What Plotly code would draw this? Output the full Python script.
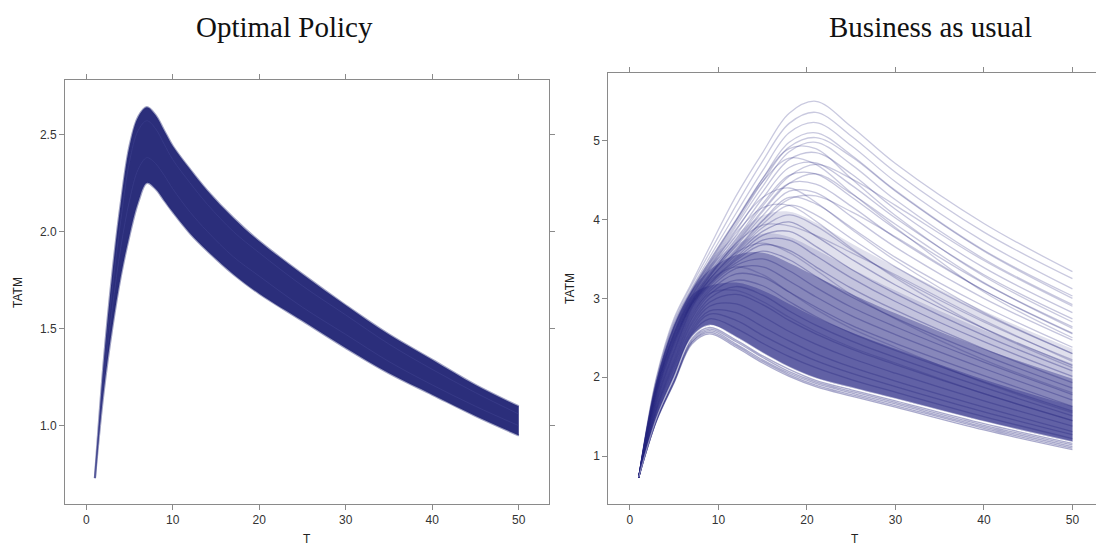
import plotly.graph_objects as go

# ---------------- data ----------------
# Optimal Policy panel: time steps and the envelope of the ensemble
T_OPT = [1, 2, 3, 4, 5, 6, 7, 8, 9, 10, 12, 14, 17, 20, 25, 30, 35, 40, 45, 50]
OPT_UPPER = [0.73, 1.32, 1.78, 2.15, 2.44, 2.59, 2.64, 2.60, 2.52, 2.44, 2.32, 2.21, 2.07, 1.95, 1.78, 1.62, 1.47, 1.34, 1.21, 1.10]
OPT_LOWER = [0.73, 1.17, 1.50, 1.77, 1.98, 2.15, 2.25, 2.22, 2.16, 2.10, 1.99, 1.90, 1.78, 1.68, 1.54, 1.40, 1.27, 1.16, 1.05, 0.95]
OPT_INNER = [
    [0.73, 1.28, 1.70, 2.06, 2.36, 2.52, 2.57, 2.53, 2.45, 2.37, 2.25, 2.14, 2.00, 1.89, 1.72, 1.57, 1.42, 1.29, 1.17, 1.06],
    [0.73, 1.22, 1.60, 1.92, 2.16, 2.32, 2.38, 2.35, 2.29, 2.22, 2.10, 2.00, 1.87, 1.77, 1.61, 1.47, 1.33, 1.21, 1.10, 1.00],
]

# Business as usual panel: time steps and representative trajectories
T_BAU = [1, 3, 5, 7, 9, 12, 15, 18, 21, 25, 30, 40, 50]
BAU_LOW = [
    [0.73, 1.44, 1.93, 2.42, 2.55, 2.38, 2.18, 2.01, 1.88, 1.76, 1.62, 1.33, 1.08],
    [0.73, 1.45, 1.94, 2.44, 2.57, 2.40, 2.20, 2.03, 1.90, 1.78, 1.64, 1.35, 1.10],
    [0.73, 1.45, 1.95, 2.45, 2.59, 2.42, 2.22, 2.05, 1.92, 1.80, 1.66, 1.37, 1.12],
    [0.73, 1.46, 1.96, 2.47, 2.61, 2.45, 2.25, 2.07, 1.94, 1.82, 1.68, 1.39, 1.14],
    [0.73, 1.47, 1.98, 2.49, 2.63, 2.47, 2.27, 2.10, 1.96, 1.84, 1.70, 1.41, 1.16],
]
BAU_GAP = [0.73, 1.48, 2.00, 2.51, 2.66, 2.51, 2.31, 2.13, 1.99, 1.87, 1.73, 1.44, 1.18]
BAU_CORE = [
    [0.73, 1.50, 2.04, 2.55, 2.74, 2.62, 2.43, 2.26, 2.12, 1.97, 1.81, 1.50, 1.22],
    [0.73, 1.52, 2.06, 2.57, 2.80, 2.72, 2.53, 2.36, 2.21, 2.05, 1.88, 1.56, 1.27],
    [0.73, 1.55, 2.10, 2.60, 2.84, 2.82, 2.64, 2.46, 2.30, 2.13, 1.95, 1.62, 1.31],
    [0.73, 1.57, 2.13, 2.63, 2.90, 2.93, 2.77, 2.58, 2.42, 2.24, 2.05, 1.70, 1.38],
    [0.73, 1.59, 2.16, 2.67, 2.95, 3.05, 2.92, 2.72, 2.55, 2.36, 2.16, 1.79, 1.45],
    [0.73, 1.60, 2.18, 2.70, 3.00, 3.15, 3.04, 2.84, 2.66, 2.46, 2.25, 1.87, 1.51],
    [0.73, 1.62, 2.21, 2.74, 3.05, 3.23, 3.16, 2.96, 2.77, 2.56, 2.34, 1.94, 1.57],
    [0.73, 1.65, 2.25, 2.79, 3.09, 3.31, 3.27, 3.08, 2.89, 2.66, 2.43, 2.02, 1.63],
    [0.73, 1.67, 2.28, 2.82, 3.12, 3.38, 3.40, 3.22, 3.02, 2.78, 2.54, 2.11, 1.71],
    [0.73, 1.69, 2.31, 2.85, 3.15, 3.42, 3.50, 3.35, 3.14, 2.89, 2.64, 2.19, 1.78],
    [0.73, 1.71, 2.34, 2.88, 3.17, 3.45, 3.60, 3.49, 3.28, 3.02, 2.75, 2.28, 1.86],
    [0.73, 1.73, 2.37, 2.90, 3.18, 3.48, 3.68, 3.61, 3.40, 3.13, 2.85, 2.36, 1.93],
    [0.73, 1.75, 2.40, 2.92, 3.19, 3.50, 3.74, 3.74, 3.54, 3.26, 2.96, 2.45, 2.01],
    [0.73, 1.77, 2.43, 2.93, 3.20, 3.52, 3.80, 3.85, 3.66, 3.37, 3.06, 2.53, 2.08],
    [0.73, 1.79, 2.45, 2.94, 3.22, 3.55, 3.85, 3.97, 3.79, 3.50, 3.17, 2.62, 2.15],
]
BAU_UPPER = [
    [0.73, 1.81, 2.47, 2.95, 3.24, 3.57, 3.90, 4.06, 3.92, 3.62, 3.28, 2.70, 2.22],
    [0.73, 1.83, 2.49, 2.96, 3.25, 3.59, 3.94, 4.18, 4.06, 3.76, 3.40, 2.80, 2.30],
    [0.73, 1.84, 2.51, 2.97, 3.27, 3.62, 3.99, 4.28, 4.20, 3.90, 3.52, 2.90, 2.38],
    [0.73, 1.86, 2.53, 2.98, 3.29, 3.66, 4.05, 4.36, 4.34, 4.04, 3.65, 3.00, 2.47],
    [0.73, 1.87, 2.55, 3.00, 3.31, 3.70, 4.12, 4.46, 4.45, 4.17, 3.77, 3.10, 2.56],
    [0.73, 1.88, 2.57, 3.01, 3.33, 3.75, 4.20, 4.56, 4.58, 4.29, 3.88, 3.19, 2.64],
    [0.73, 1.90, 2.59, 3.03, 3.36, 3.80, 4.27, 4.66, 4.72, 4.44, 4.02, 3.30, 2.74],
    [0.73, 1.91, 2.61, 3.05, 3.39, 3.86, 4.35, 4.76, 4.85, 4.58, 4.13, 3.39, 2.82],
]
BAU_TOP = [
    [0.73, 1.92, 2.63, 3.07, 3.42, 3.92, 4.42, 4.86, 4.98, 4.70, 4.25, 3.50, 2.92],
    [0.73, 1.94, 2.66, 3.10, 3.47, 3.99, 4.52, 4.98, 5.10, 4.82, 4.37, 3.61, 3.03],
    [0.73, 1.96, 2.69, 3.13, 3.52, 4.08, 4.62, 5.10, 5.23, 4.94, 4.48, 3.72, 3.12],
    [0.73, 1.98, 2.72, 3.17, 3.58, 4.18, 4.74, 5.22, 5.36, 5.06, 4.60, 3.84, 3.25],
    [0.73, 2.00, 2.75, 3.20, 3.65, 4.30, 4.85, 5.35, 5.50, 5.18, 4.71, 3.95, 3.34],
]
BAU_MIXED = [
    [0.73, 1.93, 2.65, 3.10, 3.48, 4.00, 4.52, 4.90, 4.90, 4.52, 4.05, 3.28, 2.70],
    [0.73, 1.86, 2.54, 2.99, 3.30, 3.72, 4.17, 4.55, 4.70, 4.52, 4.18, 3.48, 2.90],
    [0.73, 1.88, 2.58, 3.04, 3.40, 3.88, 4.28, 4.40, 4.22, 3.88, 3.48, 2.82, 2.30],
    [0.73, 1.84, 2.52, 2.97, 3.28, 3.68, 4.10, 4.46, 4.58, 4.33, 3.94, 3.20, 2.62],
    [0.73, 1.85, 2.55, 3.02, 3.37, 3.83, 4.15, 4.18, 3.98, 3.64, 3.26, 2.62, 2.12],
    [0.73, 1.80, 2.47, 2.95, 3.28, 3.70, 3.93, 3.92, 3.80, 3.58, 3.30, 2.72, 2.20],
    [0.73, 1.92, 2.63, 3.08, 3.44, 3.95, 4.48, 4.92, 5.04, 4.80, 4.36, 3.60, 3.00],
    [0.73, 1.77, 2.42, 2.92, 3.24, 3.58, 3.70, 3.58, 3.36, 3.05, 2.74, 2.22, 1.80],
    [0.73, 1.92, 2.63, 3.08, 3.45, 3.98, 4.48, 4.78, 4.70, 4.34, 3.90, 3.08, 2.50],
    [0.73, 1.82, 2.48, 2.94, 3.24, 3.60, 3.98, 4.26, 4.30, 4.10, 3.78, 3.10, 2.55],
    [0.73, 1.70, 2.33, 2.88, 3.22, 3.40, 3.30, 3.08, 2.86, 2.62, 2.38, 1.93, 1.55],
    [0.73, 1.63, 2.22, 2.76, 3.06, 3.10, 2.96, 2.76, 2.58, 2.38, 2.18, 1.79, 1.45],
]
# outlines of the shaded (dense) parts of the BAU ensemble, from light to dark
BAU_SHADE_TOPS = [
    [0.73, 1.96, 2.70, 3.14, 3.47, 3.80, 4.05, 4.10, 3.96, 3.70, 3.40, 2.84, 2.36],
    [0.73, 1.95, 2.68, 3.12, 3.42, 3.68, 3.82, 3.78, 3.62, 3.38, 3.10, 2.60, 2.17],
    [0.73, 1.94, 2.66, 3.10, 3.36, 3.55, 3.58, 3.45, 3.28, 3.06, 2.81, 2.36, 1.98],
    [0.73, 1.88, 2.58, 3.04, 3.16, 3.20, 3.10, 2.93, 2.76, 2.57, 2.36, 1.97, 1.63],
]
SHADE_ALPHAS = [0.15, 0.16, 0.4, 0.42]

X_TICKS = [0, 10, 20, 30, 40, 50]
OPT_Y_TICKS = [1.0, 1.5, 2.0, 2.5]
OPT_Y_LABELS = ["1.0", "1.5", "2.0", "2.5"]
BAU_Y_TICKS = [1, 2, 3, 4, 5]
PANEL_TITLES = ["Optimal Policy", "Business as usual"]

# ---------------- figure ----------------
OFF = 8  # page body margin
W, H = 1104 - OFF, 545 - OFF
NAVY = "rgb(43,46,123)"
fig = go.Figure()

def sc(x, y, ax, **kw):
    return go.Scatter(x=x, y=y, mode="lines", xaxis="x" + ax, yaxis="y" + ax, hoverinfo="skip", showlegend=False, **kw)

NOLINE = dict(color="rgba(0,0,0,0)", width=0, shape="spline")

# Optimal policy band
fig.add_trace(sc(T_OPT, OPT_LOWER, "", line=dict(color="rgba(43,46,123,0.45)", width=2.2, shape="spline")))
fig.add_trace(sc(T_OPT, OPT_UPPER, "", line=dict(color="rgba(43,46,123,0.45)", width=2.2, shape="spline"),
                 fill="tonexty", fillcolor=NAVY))
for c in OPT_INNER:
    fig.add_trace(sc(T_OPT, c, "", line=dict(color="rgba(75,78,155,0.35)", width=1, shape="spline")))

# Business as usual: graded shading of the dense part
for top, alpha in zip(BAU_SHADE_TOPS, SHADE_ALPHAS):
    fig.add_trace(sc(T_BAU, BAU_GAP, "2", line=NOLINE))
    fig.add_trace(sc(T_BAU, top, "2", line=NOLINE, fill="tonexty", fillcolor=f"rgba(45,45,135,{alpha})"))

for group, alpha in ((BAU_LOW, 0.4), (BAU_CORE, 0.35), (BAU_UPPER, 0.27), (BAU_TOP, 0.25), (BAU_MIXED, 0.25)):
    for c in group:
        fig.add_trace(sc(T_BAU, c, "2", line=dict(color=f"rgba(40,40,128,{alpha})", width=1.3, shape="spline")))
fig.add_trace(sc(T_BAU, BAU_GAP, "2", line=dict(color="rgba(255,255,255,0.45)", width=1.2, shape="spline")))

FRAME = "#8a8a8a"
TICKFONT = dict(family="Liberation Sans, Arial, sans-serif", size=12, color="#333333")

def xax(domain, rng, anchor):
    return dict(domain=domain, range=rng, tickvals=X_TICKS, ticks="outside", ticklen=5, tickcolor=FRAME,
                showline=True, linecolor=FRAME, linewidth=1, mirror="ticks", showgrid=False, zeroline=False,
                tickfont=TICKFONT, anchor=anchor)

def yax(domain, rng, tv, tt, anchor):
    return dict(domain=domain, range=rng, tickvals=tv, ticktext=tt, ticks="outside", ticklen=5, tickcolor=FRAME,
                showline=True, linecolor=FRAME, linewidth=1, mirror="ticks", showgrid=False, zeroline=False,
                tickfont=TICKFONT, anchor=anchor)

def px(x):
    return (x - OFF) / W

def py(y):
    return 1 - (y - OFF) / H

fig.update_layout(
    width=W, height=H, margin=dict(l=0, r=0, t=0, b=0),
    paper_bgcolor="white", plot_bgcolor="white",
    xaxis=xax([px(65.3), px(551.7)], [-2.46, 53.46], "y"),
    yaxis=yax([py(504), py(80)], [0.597, 2.78], OPT_Y_TICKS, OPT_Y_LABELS, "x"),
    xaxis2=xax([px(611.7), 1.0], [-2.43, 52.89], "y2"),
    yaxis2=yax([py(504), py(72.7)], [0.391, 5.863], BAU_Y_TICKS, [str(v) for v in BAU_Y_TICKS], "x2"),
    showlegend=False,
)

TITLEFONT = dict(family="Liberation Serif, Times New Roman, serif", size=29, color="#111111")
AXFONT = dict(family="Liberation Sans, Arial, sans-serif", size=12, color="#222222")

def note(text, x, y, font, angle=0):
    return dict(text=text, x=px(x), y=py(y), xref="paper", yref="paper", showarrow=False, font=font,
                textangle=angle, xanchor="center", yanchor="middle")

fig.update_layout(annotations=[
    note(PANEL_TITLES[0], 286, 27, TITLEFONT),
    note(PANEL_TITLES[1], 936, 27, TITLEFONT),
    note("T", 308.5, 539, AXFONT),
    note("T", 860, 539, AXFONT),
    note("TATM", 18, 292, AXFONT, -90),
    note("TATM", 573, 288, AXFONT, -90),
])

fig.write_html("out.html")
